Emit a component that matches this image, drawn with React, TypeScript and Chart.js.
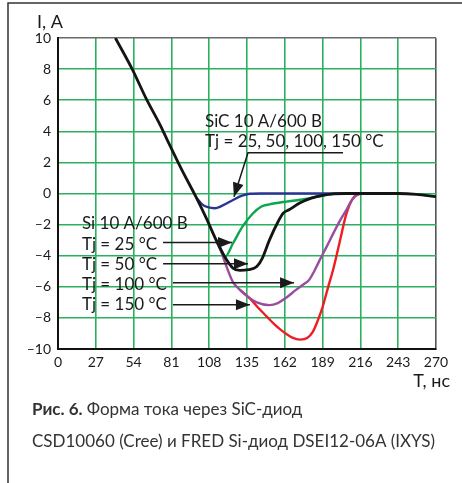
import React, { useEffect, useRef } from "react";
import { Chart, registerables } from "chart.js";

Chart.register(...registerables);

// ---- Data (time in ns, current in A) ----
const xTicks = [0, 27, 54, 81, 108, 135, 162, 189, 216, 243, 270];
const yTicks = [-10, -8, -6, -4, -2, 0, 2, 4, 6, 8, 10];

// Si diode, Tj = 50 °C (black) – includes the common descent
const siT50 = [41, 53, 63, 73, 78, 88, 99, 106, 113, 119, 125, 130, 136, 142, 146, 151, 157, 161, 165, 173, 181, 189, 197, 205, 220, 243, 256, 270];
const siI50 = [10, 8, 6.1, 4.4, 3.45, 1.6, -0.3, -1.6, -3.0, -4.05, -4.8, -4.95, -4.9, -4.7, -4.15, -3.0, -1.85, -1.25, -1.05, -0.6, -0.3, -0.12, -0.03, 0, 0, 0, -0.05, -0.2];

// SiC diode, all Tj (blue)
const sicT = [99, 103, 107, 112, 117, 125, 131, 137, 145, 180, 225];
const sicI = [-0.3, -0.7, -0.88, -0.95, -0.8, -0.42, -0.15, -0.02, 0, 0, 0];

// Si diode, Tj = 25 °C (green)
const siT25 = [113, 116, 119.5, 125, 132, 139, 145, 151, 163, 173, 187, 199, 205];
const siI25 = [-3.0, -3.55, -4.05, -3.2, -2.1, -1.3, -0.85, -0.7, -0.52, -0.4, -0.18, 0, 0];

// Si diode, Tj = 100 °C (purple)
const siT100 = [113, 117, 121, 125, 130, 135, 142, 151, 157, 163, 170, 176, 179, 183, 187, 192, 197, 202, 206, 209, 212, 216];
const siI100 = [-3.0, -3.85, -4.85, -5.7, -6.2, -6.6, -7.0, -7.18, -7.05, -6.7, -6.2, -5.8, -5.6, -5.0, -4.27, -3.4, -2.5, -1.65, -1.05, -0.55, -0.2, 0];

// Si diode, Tj = 150 °C (red)
const siT150 = [130, 137, 143, 149, 155, 161, 167, 173, 178, 182, 185, 189, 193, 196.5, 201, 206, 210, 213, 216];
const siI150 = [-6.2, -6.75, -7.35, -7.9, -8.45, -8.9, -9.25, -9.4, -9.3, -8.9, -8.3, -7.3, -6.0, -4.9, -3.2, -1.3, -0.4, -0.1, 0];

// Si labels and their arrow targets (value coordinates: label y, arrow tip x)
const siLabels = ["Tj = 25 °C", "Tj = 50 °C", "Tj = 100 °C", "Tj = 150 °C"];
const siLabelY = [-3.62, -4.91, -6.19, -7.48];
const siArrowY = [-3.15, -4.52, -5.74, -7.16];
const siArrowTipT = [124.3, 135.7, 168.6, 137.1];

const FONT = "Lato, 'Noto Sans', 'DejaVu Sans', sans-serif";

const toPts = (t: number[], v: number[]) => t.map((x, i) => ({ x, y: v[i] }));

const annotationPlugin = {
  id: "annotations",
  beforeDraw(chart: any) {
    const { ctx } = chart;
    ctx.save();
    ctx.fillStyle = "#fff";
    ctx.fillRect(0, 0, chart.width, chart.height);
    // frame
    ctx.strokeStyle = "#333";
    ctx.lineWidth = 1.5;
    ctx.beginPath();
    ctx.moveTo(8, chart.height);
    ctx.lineTo(8, 3);
    ctx.lineTo(chart.width, 3);
    ctx.stroke();
    ctx.restore();
  },
  afterDraw(chart: any) {
    const { ctx, scales } = chart;
    const X = (v: number) => scales.x.getPixelForValue(v);
    const Y = (v: number) => scales.y.getPixelForValue(v);
    ctx.save();
    ctx.fillStyle = "#1a1a1a";
    ctx.strokeStyle = "#1a1a1a";
    ctx.textBaseline = "alphabetic";
    ctx.textAlign = "left";

    const arrowHead = (x1: number, y1: number, x2: number, y2: number) => {
      const a = Math.atan2(y2 - y1, x2 - x1);
      const L = 14, W = 5.5;
      ctx.beginPath();
      ctx.moveTo(x2, y2);
      ctx.lineTo(x2 - L * Math.cos(a) + W * Math.sin(a), y2 - L * Math.sin(a) - W * Math.cos(a));
      ctx.lineTo(x2 - L * Math.cos(a) - W * Math.sin(a), y2 - L * Math.sin(a) + W * Math.cos(a));
      ctx.closePath();
      ctx.fill();
    };
    const arrow = (x1: number, y1: number, x2: number, y2: number) => {
      ctx.lineWidth = 1.5;
      ctx.beginPath();
      ctx.moveTo(x1, y1);
      ctx.lineTo(x2, y2);
      ctx.stroke();
      arrowHead(x1, y1, x2, y2);
    };

    // SiC annotation
    ctx.font = `17px ${FONT}`;
    ctx.fillText("SiC 10 A/600 B", X(105), Y(4.29));
    ctx.fillText("Tj = 25, 50, 100, 150 °C", X(105), Y(3.0));
    ctx.lineWidth = 1.5;
    ctx.beginPath();
    ctx.moveTo(X(203.6), Y(2.62));
    ctx.lineTo(X(135.7), Y(2.62));
    ctx.lineTo(X(125.7), Y(-0.21));
    ctx.stroke();
    arrowHead(X(135.7), Y(2.62), X(125.7), Y(-0.21));

    // Si annotation
    const lx = X(17.1);
    ctx.fillText("Si 10 A/600 B", lx, Y(-2.27));
    siLabels.forEach((s, i) => {
      ctx.fillText(s, lx, Y(siLabelY[i]));
      const start = lx + ctx.measureText(s).width + 6;
      arrow(start, Y(siArrowY[i]), X(siArrowTipT[i]), Y(siArrowY[i]));
    });

    // axis titles
    ctx.font = `18px ${FONT}`;
    ctx.fillText("I, A", 37, 28);
    ctx.textAlign = "right";
    ctx.fillText("T, нс", 450, 387);

    // caption
    ctx.textAlign = "left";
    ctx.fillStyle = "#333";
    ctx.font = `bold 17px ${FONT}`;
    const bold = "Рис. 6.";
    ctx.fillText(bold, 32, 415);
    const bw = ctx.measureText(bold + " ").width;
    ctx.font = `17px ${FONT}`;
    ctx.fillText("Форма тока через SiC-диод", 32 + bw, 415);
    ctx.fillText("CSD10060 (Cree) и FRED Si-диод DSEI12-06A (IXYS)", 32, 447);
    ctx.restore();
  },
};

export default function App() {
  const ref = useRef<HTMLCanvasElement>(null);
  useEffect(() => {
    if (!ref.current) return;
    const line = (label: string, t: number[], v: number[], color: string, w: number) => ({
      label,
      data: toPts(t, v),
      borderColor: color,
      backgroundColor: color,
      borderWidth: w,
      pointRadius: 0,
      fill: false,
      cubicInterpolationMode: "monotone" as const,
    });
    const chart = new Chart(ref.current, {
      type: "line",
      data: {
        datasets: [
          line("Si 50 °C", siT50, siI50, "#141414", 2.8),
          line("SiC", sicT, sicI, "#2b3494", 2.4),
          line("Si 25 °C", siT25, siI25, "#0aa64e", 2.4),
          line("Si 100 °C", siT100, siI100, "#9a4d9c", 2.4),
          line("Si 150 °C", siT150, siI150, "#ee1d23", 2.4),
        ],
      },
      options: {
        animation: false,
        responsive: false,
        devicePixelRatio: 1,
        layout: { padding: { left: 0, top: 38, right: 26, bottom: 0 } },
        plugins: { legend: { display: false }, tooltip: { enabled: false } },
        scales: {
          x: {
            type: "linear",
            min: 0,
            max: 270,
            afterBuildTicks: (s: any) => { s.ticks = xTicks.map((value) => ({ value })); },
            afterFit: (s: any) => { s.height = 134; },
            ticks: { font: { family: FONT, size: 14 }, color: "#1a1a1a", padding: 5, maxRotation: 0, autoSkip: false },
            grid: {
              drawTicks: false,
              lineWidth: 1.6,
              color: (c: any) => (c.tick && c.tick.value === 270 ? "#555" : "#2bb060"),
            },
            border: { display: true, color: "#111", width: 2 },
          },
          y: {
            type: "linear",
            min: -10,
            max: 10,
            afterBuildTicks: (s: any) => { s.ticks = yTicks.map((value) => ({ value })); },
            afterFit: (s: any) => { s.width = 58; },
            ticks: {
              font: { family: FONT, size: 14 },
              color: "#1a1a1a",
              padding: 7,
              autoSkip: false,
              callback: (v: any) => (v < 0 ? "\u2013" + Math.abs(v) : String(v)),
            },
            grid: {
              drawTicks: false,
              lineWidth: 1.6,
              color: (c: any) => (c.tick && c.tick.value === 10 ? "#6a6a6a" : "#2bb060"),
            },
            border: { display: true, color: "#111", width: 2 },
          },
        },
      },
      plugins: [annotationPlugin],
    });
    return () => chart.destroy();
  }, []);
  return (
    <div style={{ position: "fixed", left: 0, top: 0, width: 462, height: 483, background: "#fff" }}>
      <canvas ref={ref} width={462} height={483} style={{ display: "block" }} />
    </div>
  );
}
